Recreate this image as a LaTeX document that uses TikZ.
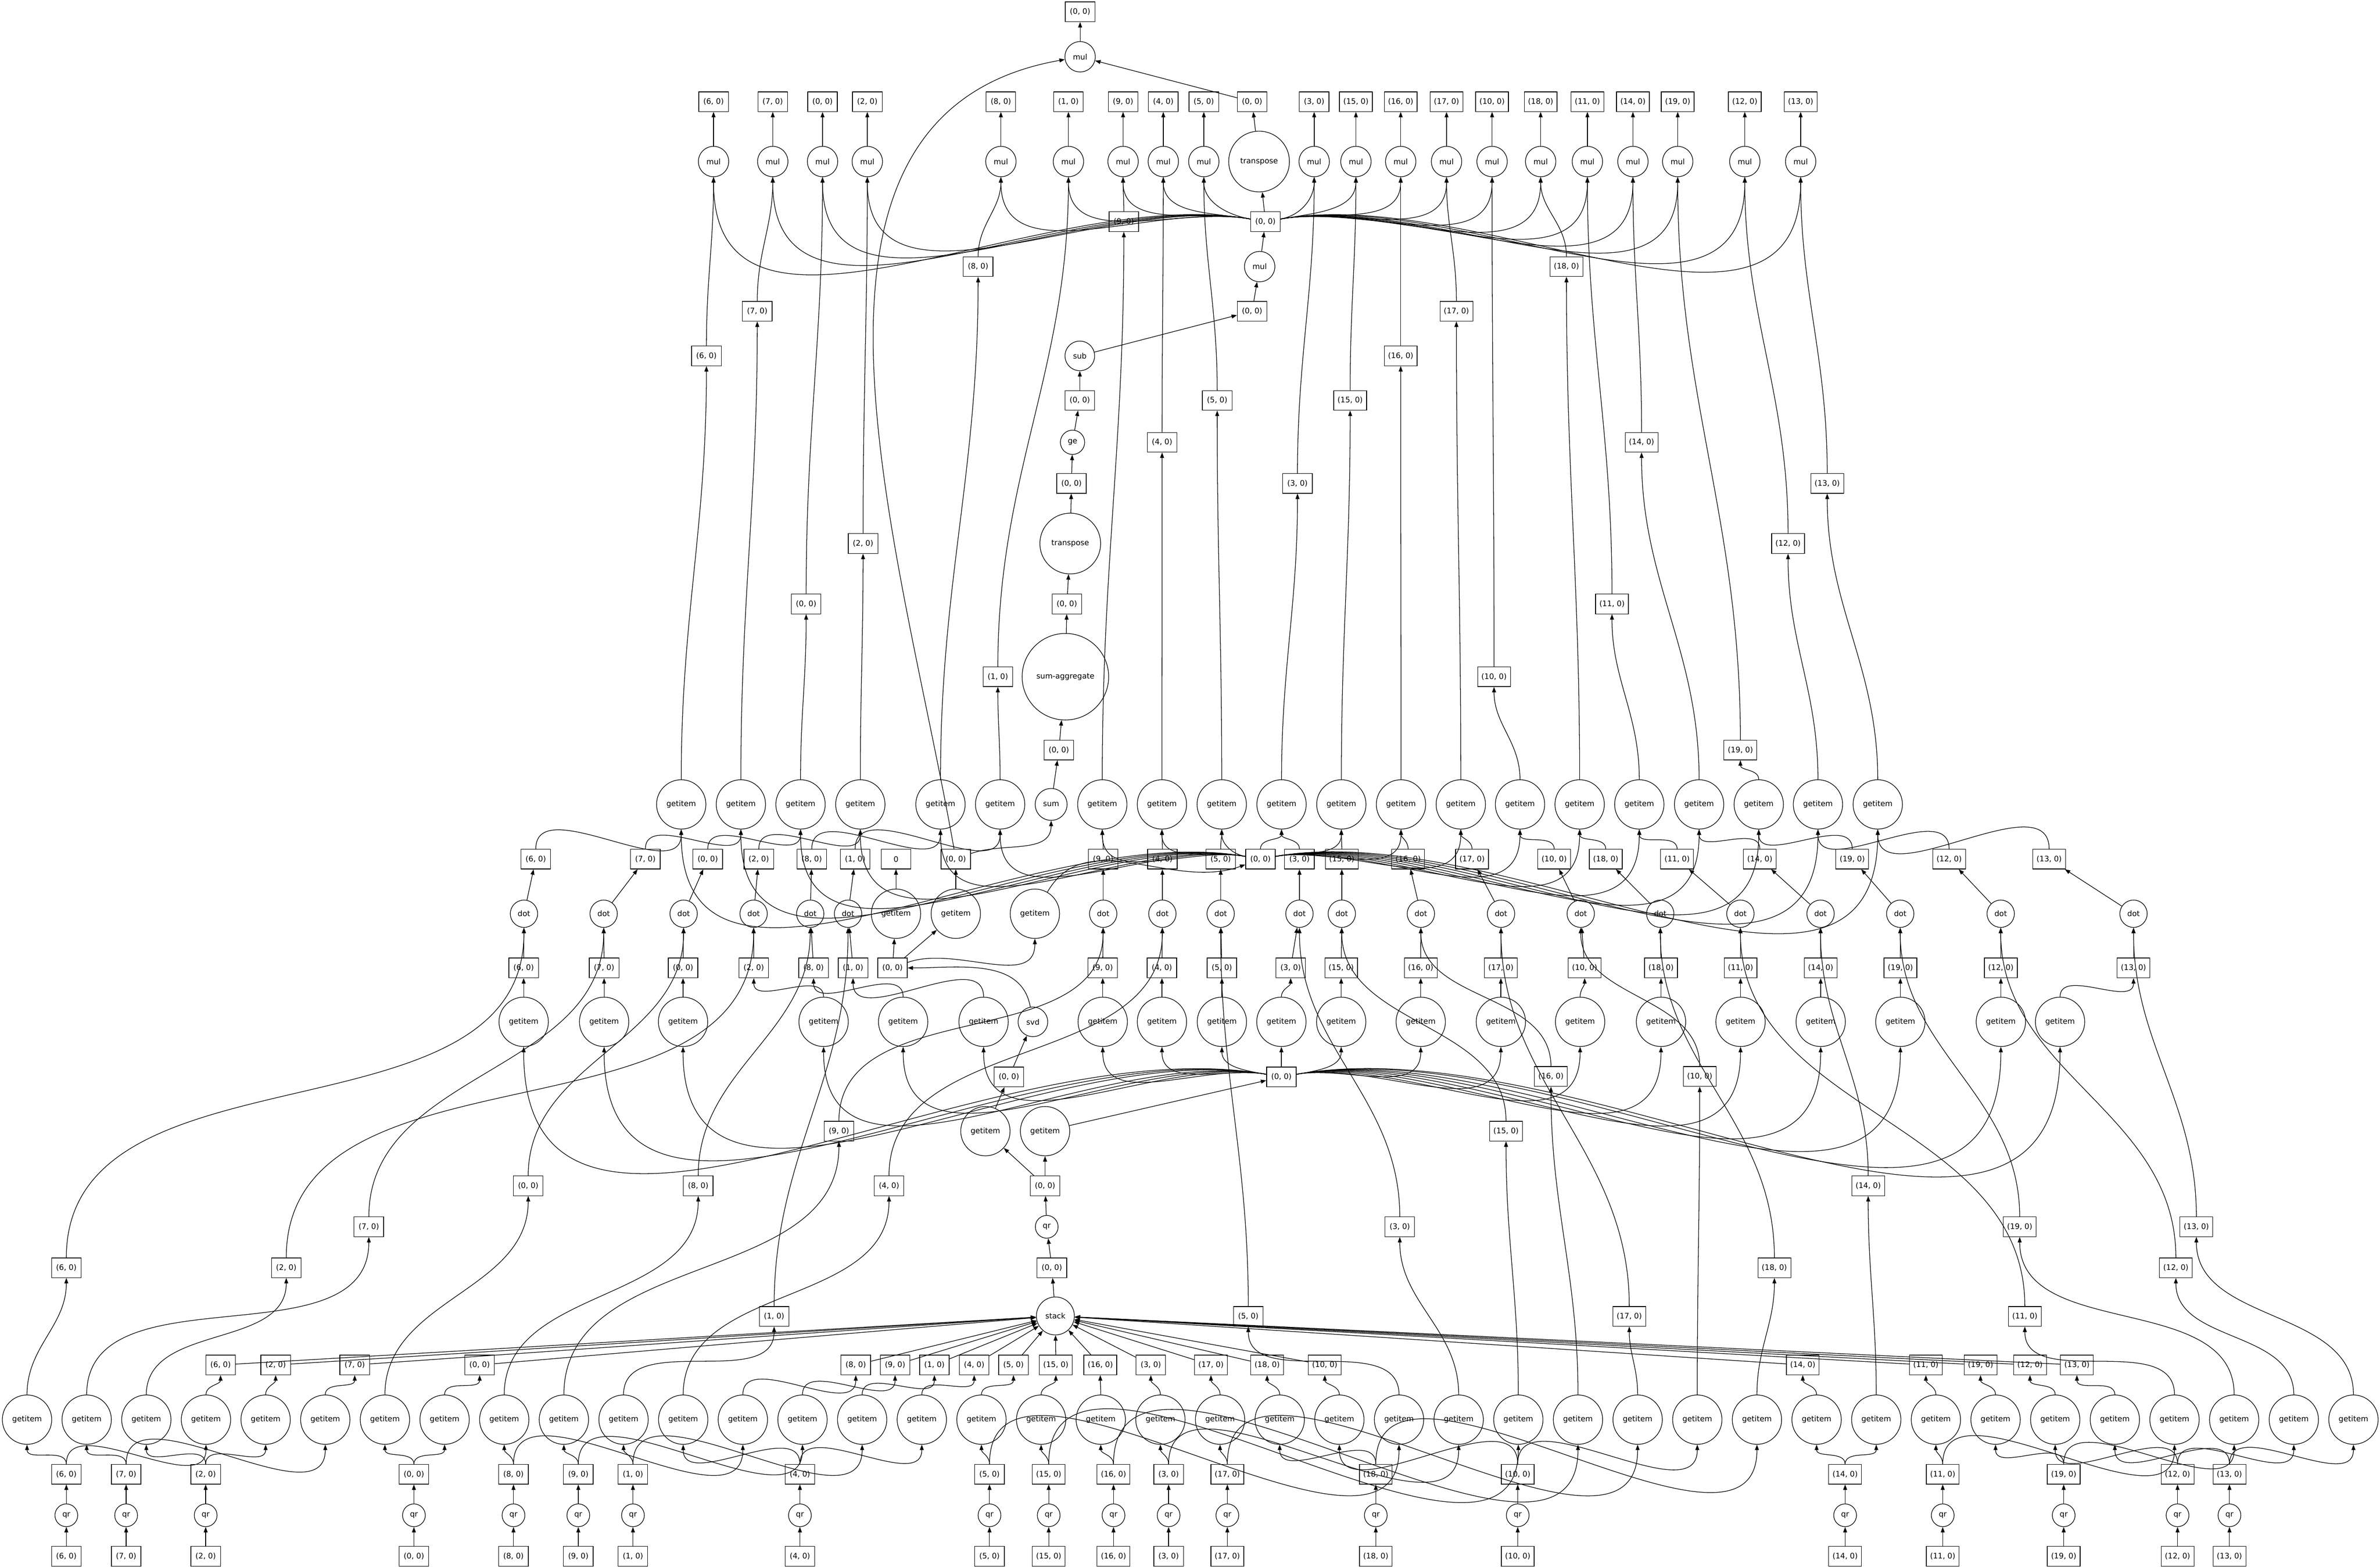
\documentclass[tikz,border=0pt]{standalone}
\usepackage{fontspec}
\setmainfont{DejaVu Sans}
\usetikzlibrary{arrows.meta}

\begin{document}
\begin{tikzpicture}[x=1pt,y=1pt,
    key/.style={draw,rectangle,inner xsep=2.5pt,inner ysep=0pt,minimum width=19.5pt,minimum height=13pt,font=\fontsize{5}{6}\selectfont},
    task/.style={draw,circle,inner sep=0pt,minimum size=#1,font=\fontsize{5}{6}\selectfont},
    edge/.style={-{Triangle[length=3.6pt,width=2.6pt]},line width=.4pt}]

    \useasboundingbox (0,0) rectangle (1568,-1032);

    %--------------------------------------------
    % Central chain
    \node[task=25pt] (stack) at (695.3,-866.7) {stack};
    \node[key] (z1) at (693,-835) {(0, 0)};
    \node[task=15pt] (qr) at (689.6,-808) {qr};
    \node[key] (z2) at (688.5,-781) {(0, 0)};
    \node[task=32.5pt] (ga) at (649.2,-745) {getitem};
    \node[task=32.5pt] (gb) at (688.5,-745) {getitem};
    \node[key] (z3) at (664.7,-709.3) {(0, 0)};
    \node[key] (hubq) at (844.2,-709.3) {(0, 0)};
    \node[task=19.5pt] (svd) at (680.5,-673) {svd};
    \node[key] (z4) at (588,-637.5) {(0, 0)};
    \node[task=32.5pt] (e1) at (590.3,-601.8) {getitem};
    \node[task=32.5pt] (e2) at (629.7,-601.8) {getitem};
    \node[task=32.5pt] (e3) at (681.8,-601.8) {getitem};
    \node[key] (zero) at (590.3,-565.8) {0};
    \node[key] (z5) at (629.7,-565.8) {(0, 0)};
    \node[key] (hubv) at (830.4,-565.8) {(0, 0)};
    \node[task=21pt] (sum) at (692.5,-529.8) {sum};
    \node[key] (z6) at (697.6,-494) {(0, 0)};
    \node[task=57pt] (sumagg) at (701.9,-445.7) {sum-aggregate};
    \node[key] (z7) at (702.9,-397.8) {(0, 0)};
    \node[task=40pt] (tra) at (705.1,-358) {transpose};
    \node[key] (z8) at (705.9,-318.4) {(0, 0)};
    \node[task=16pt] (ge) at (706.6,-291.3) {ge};
    \node[key] (z9) at (711.4,-263.7) {(0, 0)};
    \node[task=19.5pt] (sub) at (711.4,-234.4) {sub};
    \node[key] (z10) at (824.9,-205) {(0, 0)};
    \node[task=20pt] (mulc) at (829.9,-175.6) {mul};
    \node[key] (hubm) at (833.7,-146) {(0, 0)};
    \node[task=40pt] (trb) at (829.5,-106.4) {transpose};
    \node[key] (z11) at (824.9,-67) {(0, 0)};
    \node[task=20pt] (multop) at (711.6,-37.4) {mul};
    \node[key] (out) at (711.6,-7.8) {(0, 0)};

    %--------------------------------------------
    % Blocks: qr and the split of its results
    \foreach \k/\xa/\ia/\ib/\sx/\lx/\ly in {6/43.7/3/0/145.3/43.7/835, 7/83.1/5/1/233.7/243/808,
        2/135.5/4/2/181.6/188.6/835, 0/272.7/7/6/316/348/781, 8/338.3/12/8/563.8/460/781,
        9/381/13/9/589.7/552.7/745, 1/417/14/10/615.6/510/867, 4/527/15/11/641.8/585.7/781,
        5/651.9/16/23/667.7/822.4/867, 15/690.9/17/25/695.6/992.2/745, 16/733.6/18/26/724.9/1021.8/709,
        3/769.9/19/24/758.2/922.2/808, 17/808.6/20/27/797.8/1073.4/867, 18/906.4/21/29/834.8/1169/835,
        10/999.9/22/28/872.8/1119.8/709, 14/1215.6/30/31/1187.7/1230.8/781, 11/1279.9/32/36/1268.8/1334/867,
        19/1359.6/33/37/1304.8/1330.6/808, 12/1434.6/34/38/1337.4/1433.5/835, 13/1468.8/35/39/1368.3/1447/808}{
        \pgfmathsetmacro\gxa{17.8+39.3*\ia}
        \pgfmathsetmacro\gxb{17.8+39.3*\ib}
        \node[key] (in\k) at (\xa,-1025) {(\k, 0)};
        \node[task=15pt] (qr\k) at (\xa,-998) {qr};
        \node[key] (q\k) at (\xa,-971) {(\k, 0)};
        \node[task=32.5pt] (gs\k) at (\gxa,-935) {getitem};
        \node[task=32.5pt] (gl\k) at (\gxb,-935) {getitem};
        \node[key] (st\k) at (\sx,-899) {(\k, 0)};
        \node[key] (lq\k) at (\lx,-\ly) {(\k, 0)};
        \draw[edge] (in\k) -- (qr\k);
        \draw[edge] (qr\k) -- (q\k);
        \draw[edge] (q\k) to[out=90,in=-90] (gs\k);
        \draw[edge] (q\k) to[out=90,in=-90] (gl\k);
        \draw[edge] (gs\k) to[out=90,in=-90] (st\k);
        \draw[edge] (gl\k) to[out=90,in=-90] (lq\k);
        \draw[edge] (st\k) -- (stack);
    }

    %--------------------------------------------
    % Blocks: dot, getitem and mul
    \foreach \k/\dx/\px/\hx/\cx/\ux/\tx/\ty/\mx in {6/345.2/345/345/353/448.8/465.4/234.4/470.1,
        7/397.7/398/398/425.2/488.1/498.9/205/509.1, 0/450.4/450/450/466.3/527.4/531.1/397.8/541.9,
        2/496.5/496.6/542.6/499.9/566.8/568.6/358/571.4, 8/533.8/536/595/534.8/619.6/644.4/175.6/659.4,
        1/558.7/562/648/563.4/658.9/657.4/445.7/703.9, 9/726.8/726.5/726.5/726.8/726.2/740.4/146/739.9,
        4/765.8/765.5/765.5/765.8/765.5/765.6/291.3/766.4, 5/804.2/805/805/804.2/804.9/801.9/263.7/793.1,
        3/856.1/850.3/844.2/856.1/844.3/854.8/318.4/865.8, 15/884/883.6/883.6/884/883.7/889.5/263.7/893.3,
        16/936.1/936/936/927.7/923/922.8/234.4/922.8, 17/988.9/988.8/988.8/969.8/962.4/959.5/205/953,
        10/1041.4/1044/1041/1023.9/1001.4/984.3/445.7/983, 18/1093.8/1094.3/1094.3/1057.9/1040.7/1032/175.6/1015,
        11/1146.6/1146.7/1146.7/1104.9/1080/1062/397.8/1045.8, 14/1199.4/1199.5/1199.5/1159.4/1119.4/1081.5/291.3/1075.8,
        19/1251.9/1252/1252/1220.3/1158.7/1146.6/494/1105.3, 12/1318.1/1318.2/1318.2/1284.1/1197.7/1178/358/1149.5,
        13/1405.6/1405.6/1357.2/1350/1237.1/1203.8/318.4/1186.3}{
        \node[task=32.5pt] (gq\k) at (\hx,-673) {getitem};
        \node[key] (pq\k) at (\px,-637.5) {(\k, 0)};
        \node[task=18pt] (dot\k) at (\dx,-601.8) {dot};
        \node[key] (d\k) at (\cx,-565.8) {(\k, 0)};
        \node[task=32.5pt] (gd\k) at (\ux,-529.8) {getitem};
        \node[key] (ld\k) at (\tx,-\ty) {(\k, 0)};
        \node[task=20pt] (mul\k) at (\mx,-106.4) {mul};
        \node[key] (res\k) at (\mx,-67) {(\k, 0)};
        \pgfmathsetmacro\aq{(\hx<830)?170:((\hx>858)?10:90)}
        \pgfmathsetmacro\av{(\ux<816)?170:((\ux>845)?10:90)}
        \pgfmathsetmacro\am{(\mx<820)?170:((\mx>848)?10:90)}
        \draw[edge] (hubq) to[out=\aq,in=-90] (gq\k);
        \draw[edge] (gq\k) to[out=90,in=-90] (pq\k);
        \draw[edge] (pq\k) -- (dot\k);
        \draw[edge] (lq\k) to[out=90,in=-90] (dot\k);
        \draw[edge] (dot\k) -- (d\k);
        \draw[edge] (d\k) to[out=90,in=-90] (gd\k);
        \draw[edge] (hubv) to[out=\av,in=-90] (gd\k);
        \draw[edge] (gd\k) to[out=90,in=-90] (ld\k);
        \draw[edge] (ld\k) to[out=90,in=-90] (mul\k);
        \draw[edge] (hubm) to[out=\am,in=-90] (mul\k);
        \draw[edge] (mul\k) -- (res\k);
    }

    %--------------------------------------------
    % Edges of the central chain
    \draw[edge] (stack) -- (z1);
    \draw[edge] (z1) -- (qr);
    \draw[edge] (qr) -- (z2);
    \draw[edge] (z2) -- (ga);
    \draw[edge] (z2) -- (gb);
    \draw[edge] (ga) -- (z3);
    \draw[edge] (gb) -- (hubq);
    \draw[edge] (z3) -- (svd);
    \draw[edge] (svd) to[out=100,in=0] (z4);
    \draw[edge] (z4) -- (e1);
    \draw[edge] (z4) -- (e2);
    \draw[edge] (z4) to[out=20,in=-90] (e3);
    \draw[edge] (e1) -- (zero);
    \draw[edge] (e2) -- (z5);
    \draw[edge] (e3) to[out=60,in=200] (hubv);
    \draw[edge] (z5) to[out=20,in=-90] (sum);
    \draw[edge] (z5) to[out=100,in=190] (multop);
    \draw[edge] (sum) -- (z6);
    \draw[edge] (z6) -- (sumagg);
    \draw[edge] (sumagg) -- (z7);
    \draw[edge] (z7) -- (tra);
    \draw[edge] (tra) -- (z8);
    \draw[edge] (z8) -- (ge);
    \draw[edge] (ge) -- (z9);
    \draw[edge] (z9) -- (sub);
    \draw[edge] (sub) -- (z10);
    \draw[edge] (z10) -- (mulc);
    \draw[edge] (mulc) -- (hubm);
    \draw[edge] (hubm) -- (trb);
    \draw[edge] (trb) -- (z11);
    \draw[edge] (z11) -- (multop);
    \draw[edge] (multop) -- (out);
\end{tikzpicture}
\end{document}
